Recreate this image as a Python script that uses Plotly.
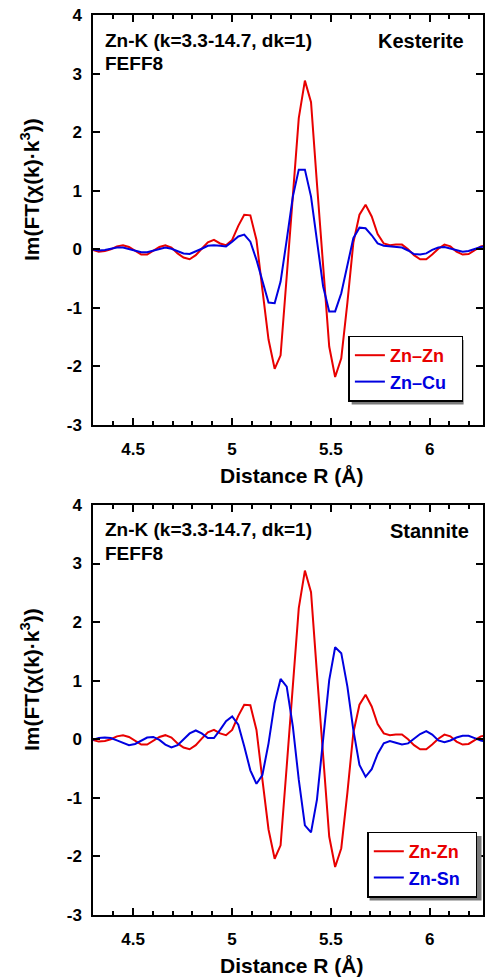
import plotly.graph_objects as go

# Distance grid R (Å)
R = [4.295, 4.326, 4.357, 4.387, 4.418, 4.449, 4.479, 4.510, 4.541, 4.571,
     4.602, 4.633, 4.663, 4.694, 4.725, 4.755, 4.786, 4.817, 4.847, 4.878,
     4.909, 4.940, 4.970, 5.001, 5.032, 5.062, 5.093, 5.124, 5.154, 5.185,
     5.216, 5.246, 5.277, 5.308, 5.338, 5.369, 5.400, 5.430, 5.461, 5.492,
     5.522, 5.553, 5.584, 5.614, 5.645, 5.676, 5.707, 5.737, 5.768, 5.799,
     5.829, 5.860, 5.891, 5.921, 5.952, 5.983, 6.013, 6.044, 6.075, 6.105,
     6.136, 6.167, 6.197, 6.228, 6.259, 6.289]

zn_zn = [-0.01, -0.04, -0.03, 0.00, 0.05, 0.07, 0.04, -0.03, -0.09, -0.09,
         -0.03, 0.04, 0.07, 0.03, -0.07, -0.14, -0.17, -0.10, 0.01, 0.12,
         0.16, 0.10, 0.07, 0.16, 0.40, 0.59, 0.58, 0.16, -0.69, -1.54,
         -2.04, -1.81, -0.46, 0.88, 2.24, 2.88, 2.51, 1.12, -0.28, -1.66,
         -2.18, -1.86, -0.91, 0.11, 0.59, 0.76, 0.56, 0.26, 0.10, 0.07,
         0.08, 0.08, 0.00, -0.10, -0.17, -0.17, -0.09, 0.01, 0.08, 0.05,
         -0.04, -0.09, -0.08, -0.01, 0.05, 0.07]

zn_cu = [0.00, -0.02, -0.01, 0.01, 0.03, 0.03, 0.00, -0.03, -0.05, -0.05,
         -0.02, 0.01, 0.03, 0.01, -0.03, -0.07, -0.08, -0.04, 0.01, 0.06,
         0.07, 0.06, 0.05, 0.13, 0.22, 0.25, 0.13, -0.18, -0.52, -0.91,
         -0.92, -0.55, 0.16, 0.90, 1.36, 1.36, 0.90, 0.16, -0.63, -1.06,
         -1.06, -0.75, -0.24, 0.19, 0.37, 0.36, 0.24, 0.10, 0.06, 0.05,
         0.05, 0.03, -0.02, -0.08, -0.09, -0.07, -0.01, 0.03, 0.04, 0.01,
         -0.02, -0.04, -0.03, 0.00, 0.04, 0.05]

zn_sn = [-0.01, 0.02, 0.03, 0.02, -0.02, -0.06, -0.10, -0.08, -0.02, 0.03,
         0.04, -0.01, -0.09, -0.14, -0.10, -0.01, 0.10, 0.15, 0.10, 0.02,
         0.02, 0.16, 0.31, 0.39, 0.25, -0.12, -0.53, -0.76, -0.61, -0.07,
         0.62, 1.03, 0.90, 0.22, -0.69, -1.47, -1.59, -1.03, -0.01, 1.01,
         1.57, 1.47, 0.90, 0.16, -0.44, -0.64, -0.51, -0.25, -0.07, -0.03,
         -0.06, -0.09, -0.07, 0.01, 0.09, 0.14, 0.08, -0.02, -0.05, -0.02,
         0.03, 0.06, 0.06, 0.02, -0.02, -0.04]

x_ticks = [4.5, 5, 5.5, 6]
x_tick_text = ["4.5", "5", "5.5", "6"]
y_ticks = [-3, -2, -1, 0, 1, 2, 3, 4]
y_tick_text = ["-3", "-2", "-1", "0", "1", "2", "3", "4"]

RED = "#e80000"
BLUE = "#0000e0"
FONT = "Liberation Sans, Arial, sans-serif"
PAD = "&nbsp;&nbsp;"

fig = go.Figure()
fig.add_trace(go.Scatter(x=R, y=zn_zn, mode="lines", line=dict(color=RED, width=2),
                         name=f"<span style='color:{RED}'><b>Zn–Zn</b></span>{PAD}",
                         xaxis="x", yaxis="y", legend="legend"))
fig.add_trace(go.Scatter(x=R, y=zn_cu, mode="lines", line=dict(color=BLUE, width=2),
                         name=f"<span style='color:{BLUE}'><b>Zn–Cu</b></span>{PAD}",
                         xaxis="x", yaxis="y", legend="legend"))
fig.add_trace(go.Scatter(x=R, y=zn_zn, mode="lines", line=dict(color=RED, width=2),
                         name=f"<span style='color:{RED}'><b>Zn-Zn</b></span>{PAD}",
                         xaxis="x2", yaxis="y2", legend="legend2"))
fig.add_trace(go.Scatter(x=R, y=zn_sn, mode="lines", line=dict(color=BLUE, width=2),
                         name=f"<span style='color:{BLUE}'><b>Zn-Sn</b></span>{PAD}",
                         xaxis="x2", yaxis="y2", legend="legend2"))

xax = dict(range=[4.297, 6.270], tickvals=x_ticks, ticktext=x_tick_text,
           ticks="inside", ticklen=7, tickwidth=1.5, tickcolor="black",
           minor=dict(dtick=0.1, tick0=4.5, ticks="inside", ticklen=4, tickwidth=1.5, tickcolor="black"),
           showline=True, linecolor="black", linewidth=1.5, mirror="ticks",
           showgrid=False, zeroline=False,
           tickfont=dict(family=FONT, size=17, color="black", weight="bold"),
           ticklabelstandoff=8)
yax = dict(range=[-3, 4], tickvals=y_ticks, ticktext=y_tick_text,
           ticks="inside", ticklen=7, tickwidth=1.5, tickcolor="black",
           showline=True, linecolor="black", linewidth=1.5, mirror="ticks",
           showgrid=False, zeroline=False,
           tickfont=dict(family=FONT, size=17, color="black", weight="bold"),
           ticklabelstandoff=6)

leg_common = dict(xanchor="center", yanchor="middle",
                  bgcolor="white", bordercolor="black", borderwidth=1.5,
                  font=dict(family=FONT, size=18), tracegroupgap=0, itemwidth=30)

fig.update_layout(
    width=486, height=978,
    margin=dict(l=93, r=1, t=15, b=63),
    paper_bgcolor="white", plot_bgcolor="white",
    xaxis=dict(xax, domain=[0, 1], anchor="y"),
    yaxis=dict(yax, domain=[0.5444, 1.0], anchor="x"),
    xaxis2=dict(xax, domain=[0, 1], anchor="y2"),
    yaxis2=dict(yax, domain=[0.0, 0.4556], anchor="x2"),
    legend=dict(leg_common, x=(407.5 - 93) / 392, y=(915 - 368.5) / 900),
    legend2=dict(leg_common, x=(424 - 93) / 392, y=(915 - 864.5) / 900),
)

ann_font = dict(family=FONT, size=19, color="black", weight="bold")
big_font = dict(family=FONT, size=20, color="black", weight="bold")
ttl_font = dict(family=FONT, size=21, color="black", weight="bold")
for xs, ys, label in [("x", "y", "Kesterite"), ("x2", "y2", "Stannite")]:
    xd, yd = f"{xs} domain", f"{ys} domain"
    fig.add_annotation(xref=xd, yref=yd, x=0.0255, y=0.939, xanchor="left", yanchor="middle",
                       text="Zn-K (k=3.3-14.7, dk=1)", showarrow=False, font=ann_font)
    fig.add_annotation(xref=xd, yref=yd, x=0.0255, y=0.8805, xanchor="left", yanchor="middle",
                       text="FEFF8", showarrow=False, font=ann_font)
    fig.add_annotation(xref=xd, yref=yd, x=0.957 if label == "Kesterite" else 0.969, y=0.937,
                       xanchor="right", yanchor="middle",
                       text=label, showarrow=False, font=big_font)
    fig.add_annotation(xref=xd, yref=yd, x=-0.163, y=0.574, xanchor="center", yanchor="middle",
                       textangle=-90, text="Im(FT(χ(k)·k<sup>3</sup>))", showarrow=False, font=ttl_font)
    fig.add_annotation(xref=xd, yref=yd, x=0.509, y=-0.122, xanchor="center", yanchor="middle",
                       text="Distance R (Å)", showarrow=False, font=ttl_font)

# gray drop shadows behind the legend boxes (legend is drawn on top)
for (lx0, lx1, ly0, ly1) in [(349, 462, 336, 401), (367, 480, 832, 897)]:
    fig.add_shape(type="rect", xref="paper", yref="paper", layer="above",
                  x0=(lx0 + 4 - 93) / 392, x1=(lx1 + 3.5 - 93) / 392,
                  y0=(915 - (ly1 + 3.5)) / 900, y1=(915 - (ly0 + 4)) / 900,
                  fillcolor="#7a7a7a", line=dict(width=0))

fig.write_html("out.html")
